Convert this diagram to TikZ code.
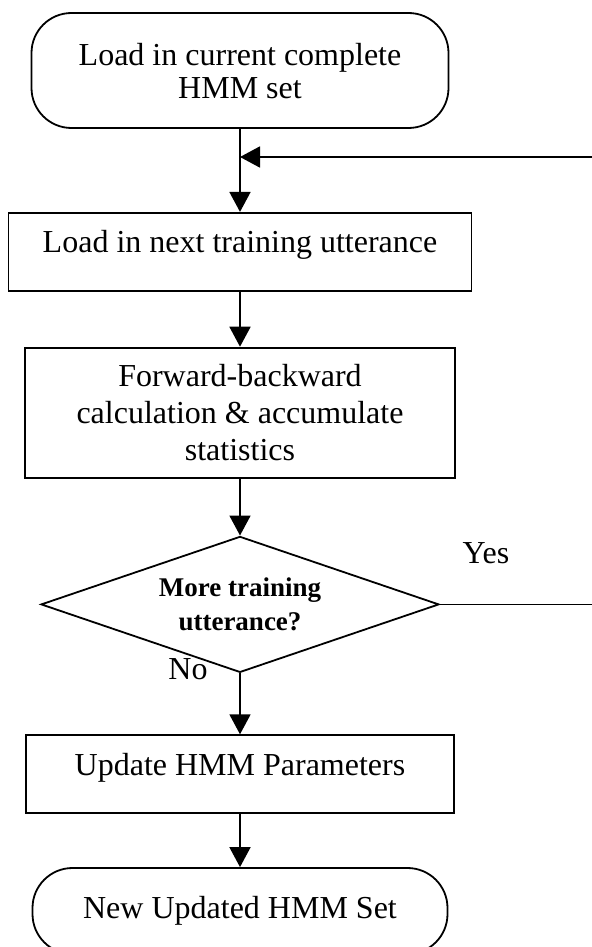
\documentclass[tikz,border=0pt]{standalone}
\usepackage{fontspec}
\setmainfont{Liberation Serif}
\usetikzlibrary{arrows.meta, positioning, shapes.geometric}

\begin{document}
\begin{tikzpicture}[
  x=0.5pt, y=-0.5pt,
  every node/.style={font=\fontsize{16}{18.5}\selectfont},
  term/.style={draw, line width=0.9pt, rounded corners=20pt, align=center, inner sep=0pt},
  box/.style={draw, line width=0.9pt, align=center, inner sep=0pt},
  topbox/.style={box, text height=10pt, text depth=9pt},
  decide/.style={draw, diamond, shape aspect=2.9, line width=0.9pt, align=center, inner sep=0pt,
                 minimum width=199pt, minimum height=68pt, font=\fontsize{13.5}{17}\selectfont\bfseries},
  arrow/.style={-{Triangle[length=10pt,width=10.5pt]}, line width=0.9pt}
]
\useasboundingbox (0,0) rectangle (592,947);

\node[term, minimum width=208.5pt, minimum height=57.5pt, font=\fontsize{16}{16.5}\selectfont, text depth=0pt] (start) at (240,70.5) {Load in current complete\\HMM set};
\node[topbox, minimum width=231.5pt, minimum height=39pt, below=41.5pt of start] (load) {Load in next training utterance};
\node[box, minimum width=215pt, minimum height=65pt, below=27.5pt of load] (fb) {Forward-backward\\calculation \& accumulate\\statistics};
\node[decide, below=28.5pt of fb] (test) {More training\\utterance?};
\node[topbox, minimum width=214pt, minimum height=39pt, below=30.5pt of test] (update) {Update HMM Parameters};
\node[term, minimum width=207.5pt, minimum height=43pt, below=26.5pt of update] (end) {New Updated HMM Set};

\node (yes) at (486,553) {Yes};
\node (no) at (188,669) {No};

\coordinate (back) at (592,157);
\coordinate (yesend) at (test.east -| back);

\draw[arrow] (start) -- (load);
\draw[arrow] (back) -- (back -| load.north);
\draw[arrow] (load) -- (fb);
\draw[arrow] (fb) -- (test);
\draw[line width=0.9pt] (test.east) -- (yesend);
\draw[arrow] (test) -- (update);
\draw[arrow] (update) -- (end);
\end{tikzpicture}
\end{document}
